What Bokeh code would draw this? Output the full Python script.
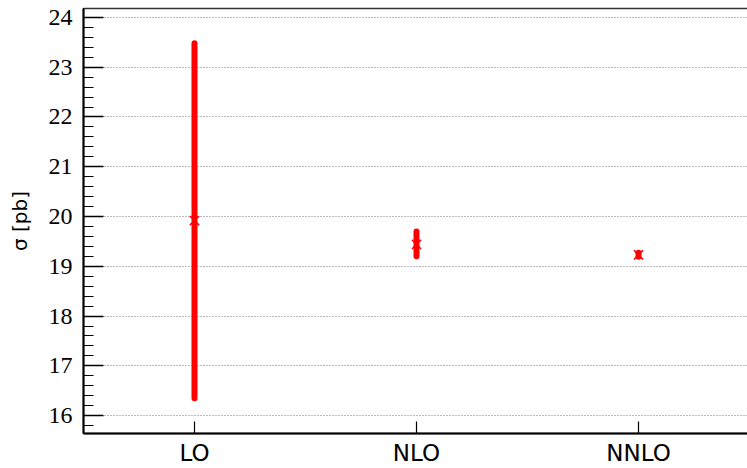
from bokeh.plotting import figure
from bokeh.models import FixedTicker, Range1d
from bokeh.embed import file_html
from bokeh.resources import INLINE

orders = ["LO", "NLO", "NNLO"]
central = [19.92, 19.44, 19.23]
lower = [16.35, 19.20, 19.19]
upper = [23.48, 19.70, 19.27]
y_ticks = [16, 17, 18, 19, 20, 21, 22, 23, 24]

xs = list(range(len(orders)))

p = figure(width=749, height=468, output_backend="svg", toolbar_location=None,
           x_range=Range1d(-0.5, 2.5), y_range=Range1d(15.64, 24.18),
           min_border_left=83, min_border_right=0, min_border_top=8, min_border_bottom=35)

p.segment(x0=xs, y0=lower, x1=xs, y1=upper, line_color="red", line_width=6, line_cap="round")
p.scatter(x=xs, y=central, marker="x", size=13, line_color="red", line_width=1.5)

p.xaxis.ticker = FixedTicker(ticks=xs)
p.xaxis.major_label_overrides = {i: o for i, o in zip(xs, orders)}
p.xaxis.major_tick_in = 12
p.xaxis.major_tick_out = 0
p.xaxis.minor_tick_line_color = None
p.xaxis.major_label_text_font = "DejaVu Sans"
p.xaxis.major_label_text_font_size = "23px"
p.xaxis.major_label_standoff = 6
p.xaxis.axis_line_width = 2
p.xaxis.major_tick_line_width = 1.2

p.yaxis.ticker = FixedTicker(ticks=y_ticks, minor_ticks=[16 + 0.2 * i for i in range(-2, 42)])
p.yaxis.major_tick_in = 20
p.yaxis.major_tick_out = 0
p.yaxis.minor_tick_in = 10
p.yaxis.minor_tick_out = 0
p.yaxis.major_label_text_font = "Liberation Serif"
p.yaxis.major_label_text_font_size = "24px"
p.yaxis.major_label_standoff = 11
p.yaxis.axis_line_width = 2
p.yaxis.major_tick_line_width = 1.5
p.yaxis.minor_tick_line_width = 1.2
p.yaxis.axis_label = "σ [pb]"
p.yaxis.axis_label_text_font = "DejaVu Sans"
p.yaxis.axis_label_text_font_style = "normal"
p.yaxis.axis_label_text_font_size = "20px"
p.yaxis.axis_label_text_color = "black"
p.yaxis.axis_label_standoff = 14

for ax in (p.xaxis, p.yaxis):
    ax.axis_line_color = "black"
    ax.major_tick_line_color = "black"
    ax.major_label_text_color = "black"

p.xgrid.grid_line_color = None
p.ygrid.grid_line_color = "#777777"
p.ygrid.grid_line_dash = "1 2"
p.ygrid.grid_line_width = 1
p.outline_line_color = "#333333"
p.outline_line_width = 1.5
p.background_fill_color = "white"
p.border_fill_color = "white"

open("out.html", "w").write(file_html(p, INLINE))
